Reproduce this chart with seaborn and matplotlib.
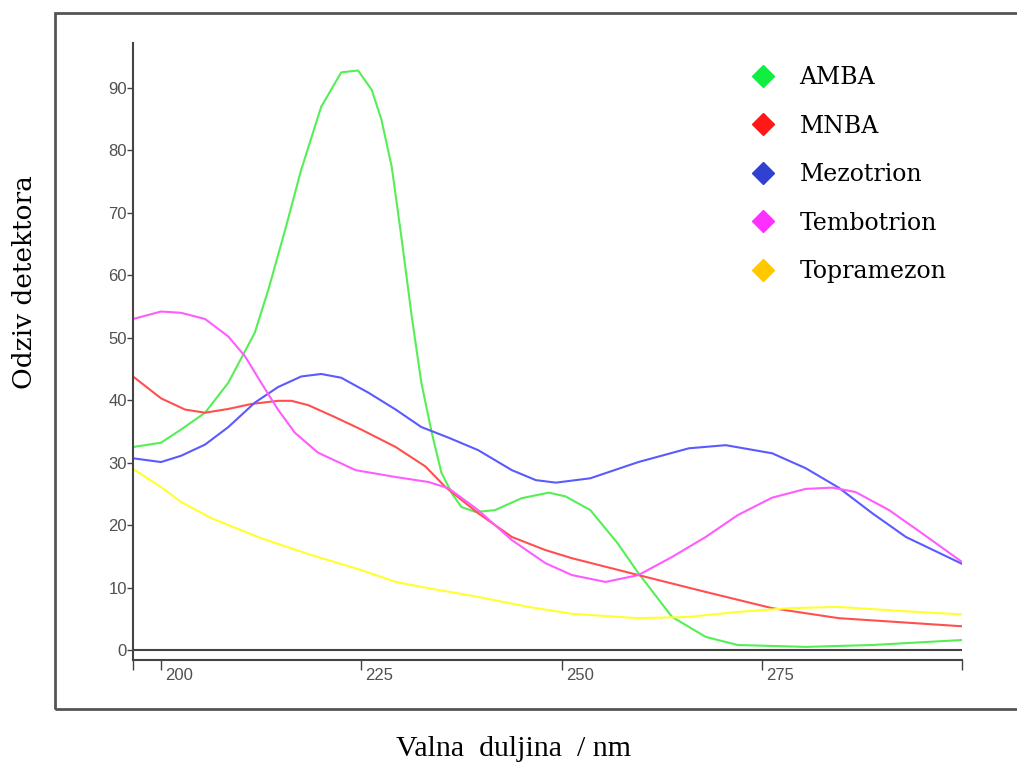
import pandas as pd
import seaborn as sns
import matplotlib.pyplot as plt
from matplotlib.lines import Line2D
from matplotlib.patches import Rectangle
from matplotlib.transforms import ScaledTranslation

# values (wavelength nm, detector response)
amba_x = [196.5, 200, 202.5, 205.5, 208.4, 211.7, 213.4, 215.5, 217.5, 220, 222.5, 224.6,
          226.3, 227.5, 228.8, 230, 231.3, 232.5, 233.8, 235, 236.3, 237.5, 239.3, 241.7,
          245, 248.4, 250.5, 253.6, 257, 259.6, 263.8, 268, 272, 280.5, 288.8, 300]
amba_y = [32.5, 33.2, 35.3, 38.0, 42.8, 50.8, 57.7, 67.3, 76.9, 87.0, 92.5, 92.8,
          89.7, 85.0, 77.4, 66.2, 53.4, 42.8, 34.8, 28.4, 25.1, 22.9, 22.1, 22.4,
          24.3, 25.2, 24.6, 22.4, 17.1, 12.3, 5.3, 2.1, 0.8, 0.5, 0.8, 1.6]

mnba_x = [196.5, 200, 203, 205.5, 208.4, 211.3, 214.6, 216.3, 218.4, 221.7, 225, 229.3,
          233, 235.5, 239.6, 243.8, 248, 251.3, 259.6, 268, 276.3, 284.6, 300]
mnba_y = [43.8, 40.3, 38.5, 38.0, 38.6, 39.4, 39.9, 39.9, 39.2, 37.3, 35.3, 32.5,
          29.4, 26.1, 21.9, 18.1, 16.0, 14.7, 12.0, 9.3, 6.7, 5.1, 3.8]

mezo_x = [196.5, 200, 202.5, 205.5, 208.4, 211.7, 214.6, 217.5, 220, 222.5, 225.9, 229.3,
          232.5, 235.9, 239.6, 243.8, 246.8, 249.3, 253.6, 259.6, 265.9, 270.5, 276.3,
          280.5, 284.6, 288.8, 293, 300]
mezo_y = [30.7, 30.1, 31.1, 32.9, 35.7, 39.6, 42.1, 43.8, 44.2, 43.6, 41.2, 38.5,
          35.7, 34.0, 32.0, 28.8, 27.2, 26.8, 27.5, 30.1, 32.3, 32.8, 31.5,
          29.1, 26.0, 21.9, 18.1, 13.8]

tembo_x = [196.5, 200, 202.5, 205.5, 208.4, 210.5, 212.5, 214.6, 216.7, 219.6, 224.3, 229.3,
           233.4, 235.9, 239.6, 243.8, 248, 251.3, 255.5, 259.6, 263.8, 268, 272, 276.3,
           280.5, 283.8, 286.7, 290.9, 295, 300]
tembo_y = [53.0, 54.2, 54.0, 53.0, 50.2, 47.0, 42.8, 38.5, 34.8, 31.6, 28.8, 27.7,
           26.9, 25.9, 22.4, 17.6, 13.9, 12.0, 10.9, 12.0, 14.9, 18.1, 21.6, 24.4,
           25.8, 26.0, 25.3, 22.4, 18.7, 14.1]

topra_x = [196.5, 200, 202.5, 206.3, 212.5, 218.8, 225, 229.3, 233.4, 239.6, 245.9, 251.3,
           259.6, 265.9, 272, 278.4, 284.6, 293, 300]
topra_y = [29.0, 26.1, 23.7, 21.1, 17.9, 15.2, 12.8, 10.9, 9.9, 8.5, 6.9, 5.8,
           5.1, 5.3, 6.1, 6.7, 6.9, 6.2, 5.7]

names = ['AMBA', 'MNBA', 'Mezotrion', 'Tembotrion', 'Topramezon']
line_colors = ['#55ef55', '#ff5050', '#5a5aff', '#ff5cff', '#ffff30']
marker_colors = ['#10ee40', '#ff1818', '#3040d0', '#ff30ff', '#ffc800']

series = [(amba_x, amba_y), (mnba_x, mnba_y), (mezo_x, mezo_y),
          (tembo_x, tembo_y), (topra_x, topra_y)]
frames = []
for name, (xs, ys) in zip(names, series):
    frames.append(pd.DataFrame({'wl': xs, 'resp': ys, 'tvar': name}))
data = pd.concat(frames, ignore_index=True)

W, H = 1017, 765
fig = plt.figure(figsize=(W / 100, H / 100), dpi=100)
ax = fig.add_axes([133 / W, 1 - 660 / H, (962 - 133) / W, (660 - 43) / H])

sns.lineplot(data=data, x='wl', y='resp', hue='tvar', palette=line_colors,
             hue_order=names, estimator=None, sort=True, lw=1.5, ax=ax, legend=False)

ax.set_xlim(196.5, 300)
ax.set_ylim(-1.6, 97.2)
ax.axhline(0, color='#444444', lw=1.5, zorder=1)

for s in ['top', 'right']:
    ax.spines[s].set_visible(False)
for s in ['left', 'bottom']:
    ax.spines[s].set_color('#444444')
    ax.spines[s].set_linewidth(1.5)

ax.set_yticks(range(0, 100, 10))
ax.tick_params(axis='y', length=4, width=1, color='#444444', pad=0.5,
               labelsize=12, labelcolor='#505050')
ax.set_xticks([196.5, 200, 225, 250, 275, 300])
ax.set_xticklabels(['', '200', '225', '250', '275', ''])
ax.tick_params(axis='x', length=7, width=1, color='#444444', pad=-1,
               labelsize=12, labelcolor='#505050')
for lab in ax.get_xticklabels():
    lab.set_horizontalalignment('left')
    lab.set_transform(lab.get_transform() + ScaledTranslation(3 / 72, 0, fig.dpi_scale_trans))
for lab in ax.get_xticklabels() + ax.get_yticklabels():
    lab.set_fontfamily('Liberation Sans')

ax.set_xlabel('')
ax.set_ylabel('')
fig.text(513 / W, 1 - 749 / H, 'Valna  duljina  / nm', ha='center', va='center',
         fontsize=21.5, family='Liberation Serif')
fig.text(25 / W, 1 - 282 / H, 'Odziv detektora', ha='center', va='center',
         rotation=90, fontsize=19, family='DejaVu Serif')

handles = [Line2D([], [], ls='none', marker='D', ms=11, color=c, mec=c) for c in marker_colors]
ax.legend(handles, names, loc='upper left', bbox_to_anchor=(0.72, 0.997), frameon=False,
          prop={'family': 'DejaVu Serif', 'size': 17}, labelspacing=1.08,
          handletextpad=1.05, handlelength=1.0)

fig.patches.append(Rectangle((55 / W, 1 - 709 / H), 1.0, (709 - 13) / H,
                             transform=fig.transFigure, fill=False,
                             edgecolor='#555555', lw=2))

fig.savefig('out.png', dpi=100)
